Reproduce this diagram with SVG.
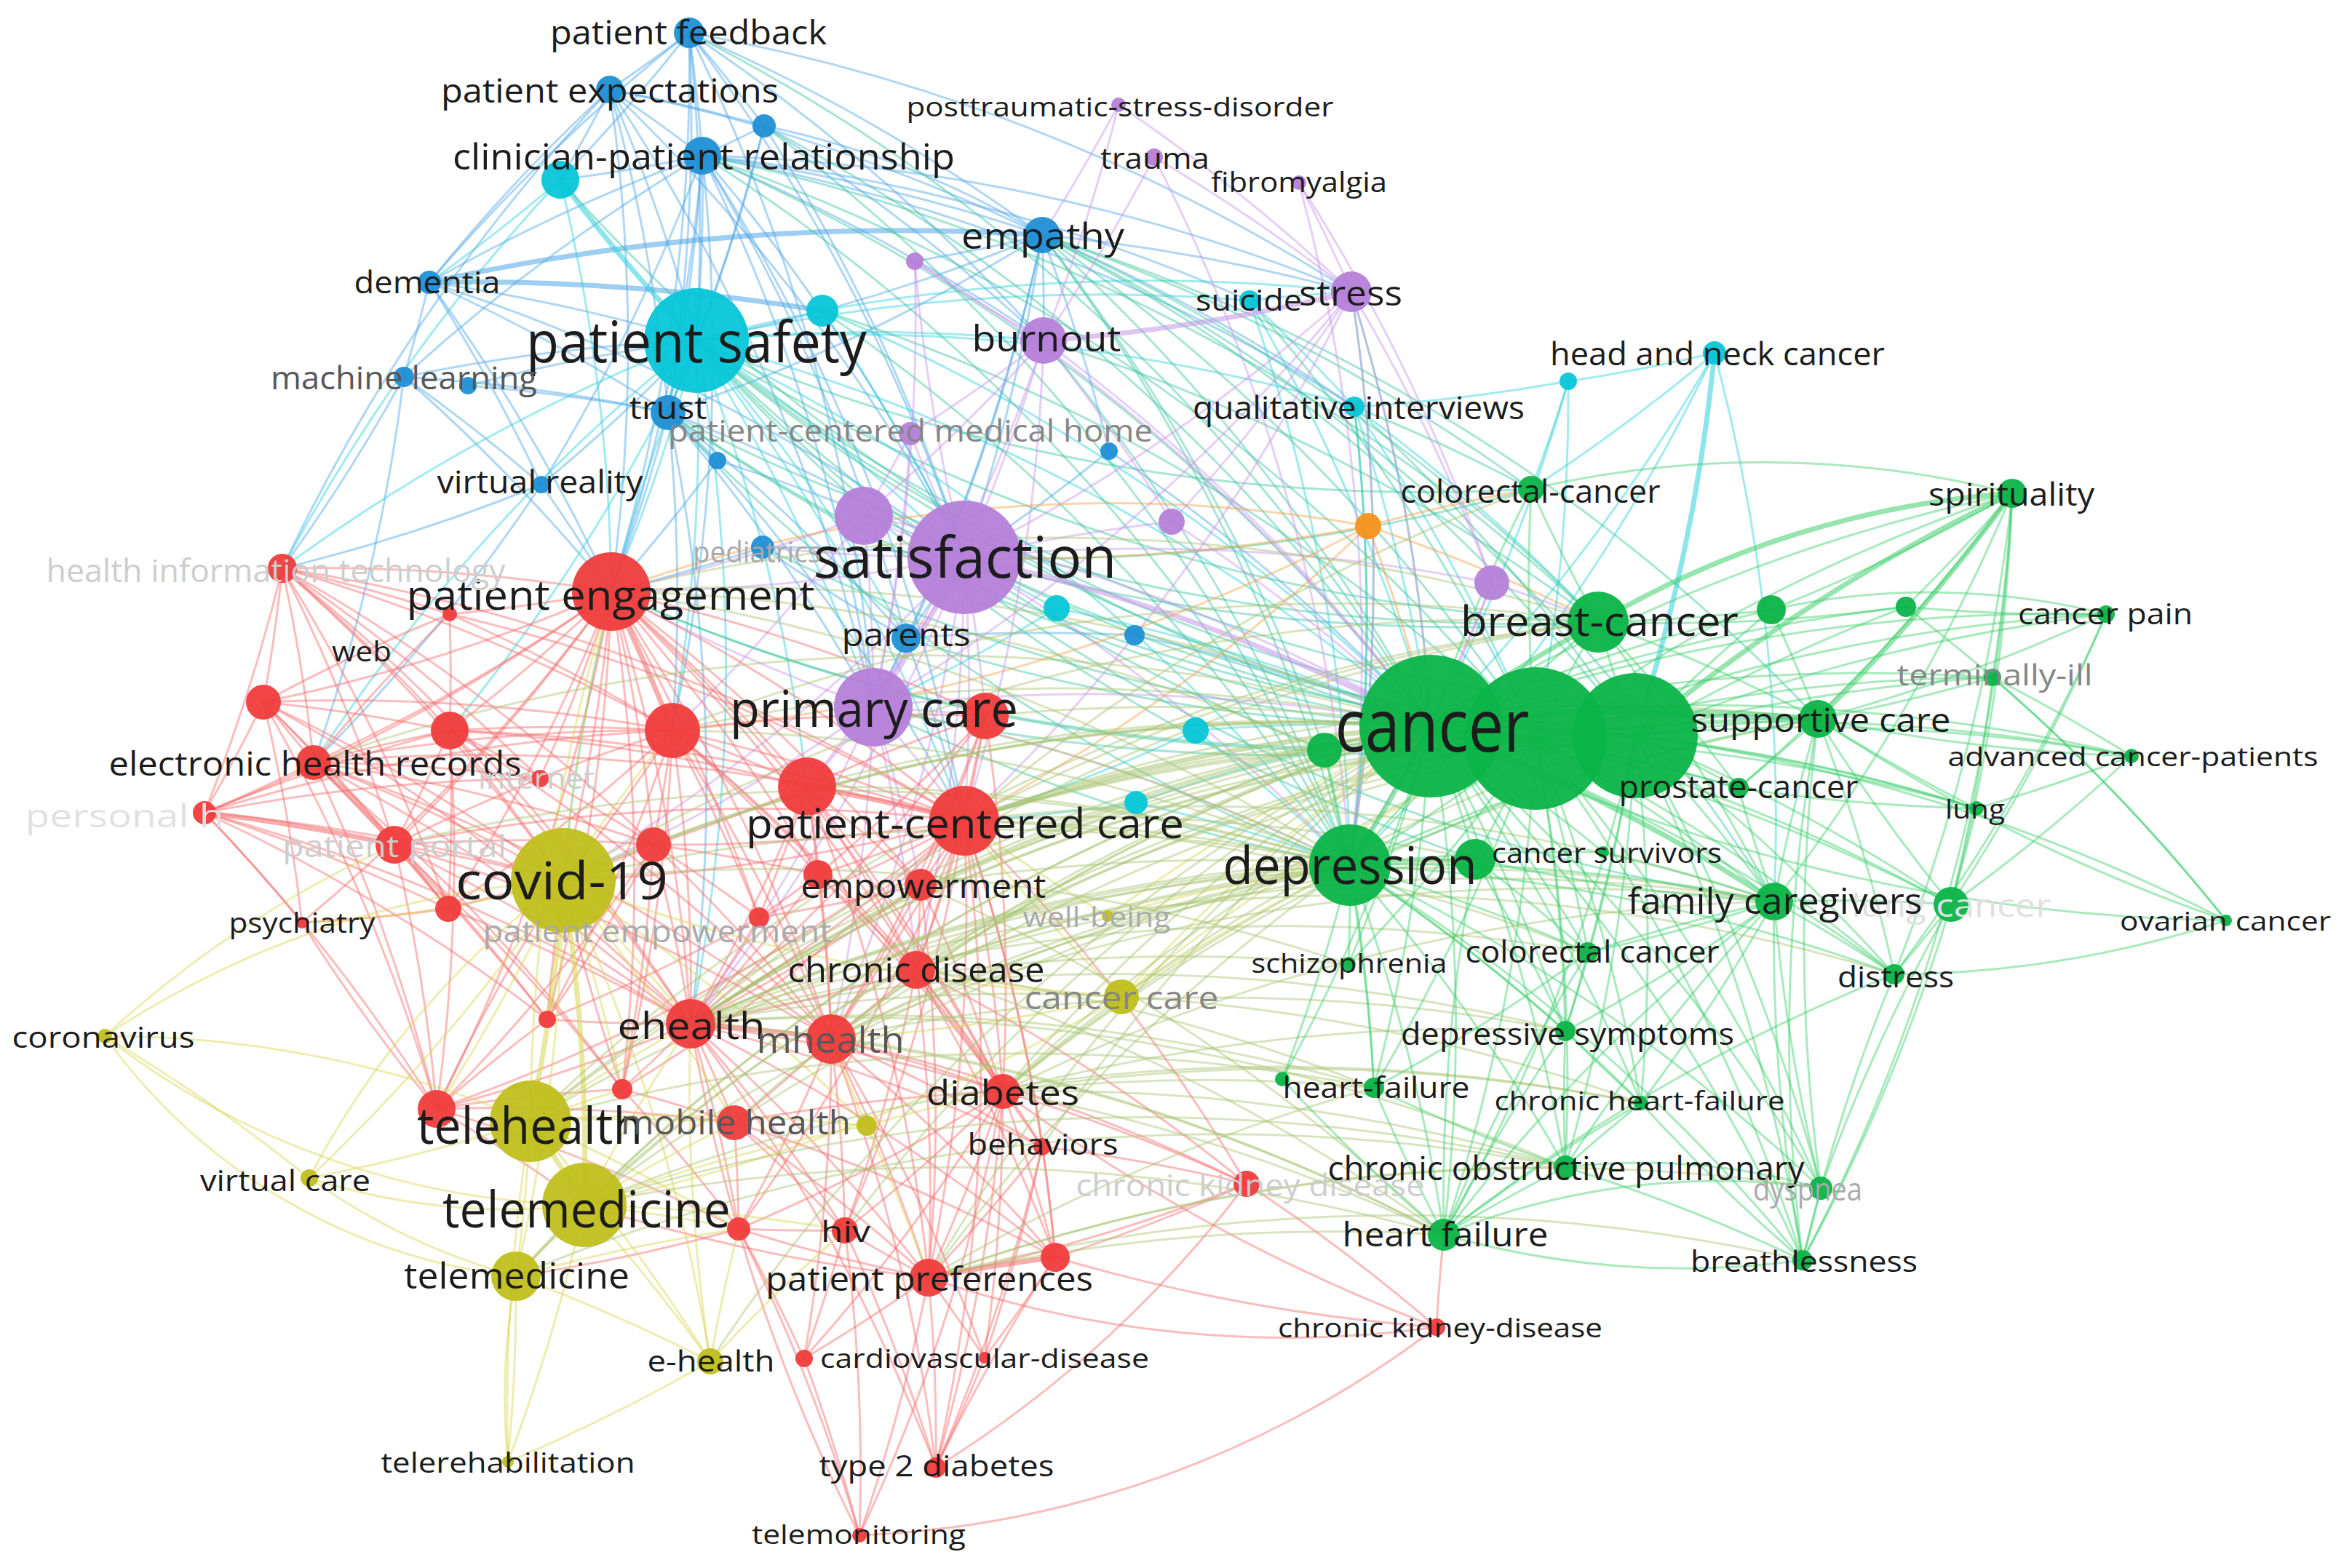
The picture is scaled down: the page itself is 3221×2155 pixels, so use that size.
<svg xmlns="http://www.w3.org/2000/svg" width="3221" height="2155" viewBox="0 0 3221 2155">
<style>
.e path{fill:none;stroke-width:3;stroke-opacity:.45;stroke-linecap:round}
.r path{stroke:#f36a6a}
.g path{stroke:#3fcf6c}
.b path{stroke:#4ea6e6}
.c path{stroke:#2fd0dc}
.p path{stroke:#c795ea}
.y path{stroke:#d6d553}
.o path{stroke:#f7a045}
.m path{stroke:#a8c470}
.t2 path{stroke:#3cc6a0}
.e path.w{stroke-width:7;stroke-opacity:.55}
.red{fill:#f03c3c}.grn{fill:#0bb447}.cyn{fill:#06c6d8}.blu{fill:#1f8fd5}.pur{fill:#b57fd9}.yel{fill:#c0bf1c}.org{fill:#f7921c}
circle{fill-opacity:.95}
text{font-family:"Open Sans","Noto Sans","DejaVu Sans",sans-serif;text-anchor:middle;dominant-baseline:central;fill:#1c1c1c}
.f1{fill:#cdcdcd}.f2{fill:#aaaaaa}.f3{fill:#868686}.f4{fill:#575757}.f5{fill:#e0e0e0}
</style>
<rect width="3221" height="2155" fill="#ffffff"/>
<g id="connectors">
<g class="e b">
<path d="M947 45A2500 2500 0 0 1 838 123"/><path d="M947 45A2500 2500 0 0 1 965 214"/><path d="M947 45A2500 2500 0 0 1 1050 173"/><path d="M947 45A2500 2500 0 0 1 957 468"/><path d="M947 45A2500 2500 0 0 1 770 247"/><path d="M947 45A2500 2500 0 0 1 1432 323"/><path d="M947 45A2500 2500 0 0 1 918 567"/><path d="M947 45A2500 2500 0 0 0 590 388"/><path d="M947 45A2500 2500 0 0 1 1325 766"/><path d="M947 45A2500 2500 0 0 1 1434 468"/><path d="M947 45A2500 2500 0 0 1 1857 401"/><path d="M947 45A2500 2500 0 0 1 840 813"/><path d="M947 45A2500 2500 0 0 1 1200 972"/>
<path d="M838 123A2500 2500 0 0 1 965 214"/><path d="M838 123A2500 2500 0 0 1 1050 173"/><path d="M838 123A2500 2500 0 0 1 957 468"/><path d="M838 123A2500 2500 0 0 1 770 247"/><path d="M838 123A2500 2500 0 0 1 918 567"/><path d="M838 123A2500 2500 0 0 0 590 388"/><path d="M838 123A2500 2500 0 0 1 1325 766"/><path d="M838 123A2500 2500 0 0 1 1432 323"/><path d="M838 123A2500 2500 0 0 1 840 813"/><path d="M838 123A2500 2500 0 0 0 388 781"/><path d="M838 123A2500 2500 0 0 1 1200 972"/>
<path d="M1050 173A2500 2500 0 0 1 965 214"/><path d="M1050 173A1200 1200 0 0 1 1432 323"/><path d="M1050 173A2500 2500 0 0 1 957 468"/><path d="M1050 173A2500 2500 0 0 1 1325 766"/><path d="M1050 173A2500 2500 0 0 1 1434 468"/><path d="M1050 173A2500 2500 0 0 1 918 567"/>
<path d="M965 214A2500 2500 0 0 1 957 468"/><path d="M965 214A2500 2500 0 0 1 1432 323"/><path d="M965 214A2500 2500 0 0 1 918 567"/><path d="M965 214A2500 2500 0 0 1 1325 766"/><path d="M965 214A2500 2500 0 0 1 1434 468"/><path d="M965 214A2500 2500 0 0 1 1200 972"/><path d="M965 214A2500 2500 0 0 1 840 813"/><path d="M965 214A2500 2500 0 0 1 1245 877"/><path d="M965 214A2500 2500 0 0 1 770 247"/><path d="M965 214A2500 2500 0 0 0 590 388"/><path d="M965 214A2500 2500 0 0 0 555 518"/><path d="M965 214A2500 2500 0 0 1 744 666"/><path d="M965 214A2500 2500 0 0 1 1325 1128"/><path d="M965 214A2500 2500 0 0 1 1857 401"/><path d="M965 214A2500 2500 0 0 1 1861 559"/><path d="M965 214A2500 2500 0 0 1 1717 413"/><path d="M965 214A2500 2500 0 0 1 924 1004"/>
<path d="M1432 323A2500 2500 0 0 1 957 468"/><path d="M1432 323A2500 2500 0 0 1 1434 468"/><path d="M1432 323A2500 2500 0 0 1 1857 401"/><path d="M1432 323A2500 2500 0 0 1 1325 766"/><path d="M1432 323A2500 2500 0 0 1 1200 972"/><path d="M1432 323A2500 2500 0 0 1 918 567"/><path d="M1432 323A2500 2500 0 0 1 1861 559"/><path d="M1432 323A2500 2500 0 0 1 1524 620"/><path d="M590 388A3000 3000 0 0 1 1432 323" class="w"/><path d="M1432 323A2500 2500 0 0 1 1257 359"/><path d="M1432 323A2500 2500 0 0 1 1245 877"/>
<path d="M590 388A2500 2500 0 0 1 957 468"/><path d="M590 388A2500 2500 0 0 1 918 567"/><path d="M590 388A2500 2500 0 0 1 555 518"/><path d="M590 388A3000 3000 0 0 1 1130 427" class="w"/><path d="M590 388A2500 2500 0 0 1 1325 766"/><path d="M590 388A2500 2500 0 0 1 840 813"/><path d="M590 388A2500 2500 0 0 1 744 666"/>
<path d="M555 518A2500 2500 0 0 1 957 468"/><path d="M555 518A2500 2500 0 0 1 918 567"/><path d="M555 518A2500 2500 0 0 1 744 666"/><path d="M555 518A2500 2500 0 0 1 840 813"/><path d="M555 518A2500 2500 0 0 1 388 781"/><path d="M555 518A2500 2500 0 0 1 431 1048"/><path d="M643 530A2500 2500 0 0 1 957 468"/><path d="M643 530A2500 2500 0 0 1 918 567"/>
<path d="M957 468A2500 2500 0 0 1 918 567"/><path d="M957 468A2500 2500 0 0 1 744 666"/><path d="M918 567A2500 2500 0 0 1 1325 766"/><path d="M918 567A2500 2500 0 0 1 1200 972"/><path d="M918 567A2500 2500 0 0 1 840 813"/><path d="M918 567A2500 2500 0 0 1 1325 1128"/><path d="M918 567A2500 2500 0 0 1 986 633"/><path d="M918 567A2500 2500 0 0 1 1245 877"/><path d="M918 567A2500 2500 0 0 1 949 1407"/><path d="M918 567A2500 2500 0 0 1 924 1004"/>
<path d="M744 666A2500 2500 0 0 1 840 813"/><path d="M744 666A2500 2500 0 0 1 431 1048"/><path d="M744 666A2500 2500 0 0 1 388 781"/>
<path d="M1245 877A2500 2500 0 0 1 1325 766"/><path d="M1245 877A2500 2500 0 0 1 1200 972"/><path d="M1245 877A2500 2500 0 0 1 1048 752"/><path d="M1245 877A2500 2500 0 0 1 1325 1128"/><path d="M1245 877A2500 2500 0 0 1 1559 873"/><path d="M1048 752A2500 2500 0 0 1 1325 766"/><path d="M1048 752A2500 2500 0 0 1 840 813"/><path d="M1559 873A2500 2500 0 0 1 1966 998"/><path d="M1524 620A2500 2500 0 0 1 1325 766"/><path d="M1524 620A2500 2500 0 0 1 1966 998"/><path d="M986 633A2500 2500 0 0 1 840 813"/><path d="M986 633A2500 2500 0 0 1 1325 766"/>
</g>
<g class="e c">
<path d="M957 468A2500 2500 0 0 1 770 247" class="w"/><path d="M770 247A2500 2500 0 0 1 590 388"/><path d="M770 247A2500 2500 0 0 1 840 813"/><path d="M770 247A2500 2500 0 0 0 388 781"/>
<path d="M957 468A2500 2500 0 0 1 1200 972"/><path d="M957 468A2500 2500 0 0 1 840 813"/><path d="M957 468A2500 2500 0 0 1 1130 427"/><path d="M957 468A2500 2500 0 0 1 1434 468"/><path d="M957 468A2500 2500 0 0 1 1325 1128"/><path d="M957 468A2500 2500 0 0 1 1966 998"/><path d="M957 468A2500 2500 0 0 0 431 1048"/><path d="M957 468A2500 2500 0 0 0 388 781"/><path d="M957 468A2500 2500 0 0 1 1855 1189"/><path d="M957 468A2500 2500 0 0 1 1245 877"/><path d="M957 468A2500 2500 0 0 1 1861 559"/><path d="M957 468A2500 2500 0 0 1 1717 413"/><path d="M957 468A2500 2500 0 0 1 924 1004"/><path d="M957 468A2500 2500 0 0 0 774 1210"/><path d="M957 468A2500 2500 0 0 1 949 1407"/><path d="M957 468A2500 2500 0 0 1 1109 1081"/><path d="M957 468A2500 2500 0 0 1 618 1004"/><path d="M957 468A2500 2500 0 0 1 1325 766"/>
<path d="M1130 427A2500 2500 0 0 1 1966 998"/><path d="M1130 427A2500 2500 0 0 1 1325 766"/><path d="M1130 427A2500 2500 0 0 1 1857 401"/>
<path d="M1717 413A2500 2500 0 0 1 1857 401"/><path d="M1717 413A2500 2500 0 0 1 1861 559"/><path d="M1717 413A2500 2500 0 0 1 1966 998"/><path d="M1717 413A2500 2500 0 0 1 1855 1189"/><path d="M1861 559A2500 2500 0 0 1 1966 998"/><path d="M1861 559A2500 2500 0 0 1 1855 1189"/><path d="M1861 559A2500 2500 0 0 1 2196 855"/><path d="M1861 559A2500 2500 0 0 1 2110 1015"/>
<path d="M2356 485A2500 2500 0 0 1 2155 524"/><path d="M2356 485A2500 2500 0 0 1 1966 998"/><path d="M2356 485A2500 2500 0 0 1 2247 1011" class="w"/><path d="M2356 485A2500 2500 0 0 1 2438 1239"/><path d="M2356 485A2500 2500 0 0 1 2104 672"/><path d="M2356 485A2500 2500 0 0 1 1855 1189"/><path d="M2155 524A2500 2500 0 0 1 1966 998"/><path d="M2155 524A2500 2500 0 0 1 2104 672"/><path d="M2155 524A2500 2500 0 0 1 2110 1015"/><path d="M2155 524A2500 2500 0 0 1 1861 559"/>
<path d="M1452 836A2500 2500 0 0 1 1966 998"/><path d="M1452 836A2500 2500 0 0 1 1325 766"/><path d="M1452 836A2500 2500 0 0 1 1200 972"/><path d="M1643 1004A2500 2500 0 0 1 1966 998"/><path d="M1643 1004A2500 2500 0 0 1 1855 1189"/><path d="M1643 1004A2500 2500 0 0 1 1325 1128"/><path d="M1561 1103A2500 2500 0 0 1 1966 998"/><path d="M1561 1103A2500 2500 0 0 1 1325 1128"/><path d="M1561 1103A2500 2500 0 0 1 1855 1189"/>
</g>
<g class="e t2">
<path d="M1432 323A2500 2500 0 0 1 1966 998"/><path d="M1432 323A2500 2500 0 0 1 1855 1189"/><path d="M965 214A2500 2500 0 0 1 1966 998"/><path d="M1050 173A2500 2500 0 0 1 1966 998"/><path d="M947 45A2500 2500 0 0 1 1966 998"/><path d="M1325 766A2500 2500 0 0 0 2110 1015"/><path d="M1200 972A2500 2500 0 0 0 2110 1015"/><path d="M918 567A2500 2500 0 0 0 1966 998"/><path d="M957 468A2500 2500 0 0 0 2110 1015"/><path d="M1432 323A2500 2500 0 0 1 2110 1015"/><path d="M1325 766A2500 2500 0 0 0 2247 1011"/><path d="M1325 766A2500 2500 0 0 0 2196 855"/><path d="M1432 323A2500 2500 0 0 1 2196 855"/><path d="M957 468A2500 2500 0 0 0 2196 855"/><path d="M1432 323A2500 2500 0 0 1 2104 672"/><path d="M1325 766A2500 2500 0 0 0 2104 672"/><path d="M1434 468A2500 2500 0 0 1 1855 1189"/><path d="M1857 401A2500 2500 0 0 1 1855 1189"/><path d="M1245 877A2500 2500 0 0 0 1966 998"/><path d="M1200 972A2500 2500 0 0 0 1855 1189"/><path d="M1048 752A2500 2500 0 0 0 1966 998"/><path d="M1130 427A2500 2500 0 0 1 2110 1015"/><path d="M1130 427A2500 2500 0 0 1 1855 1189"/><path d="M840 813A2500 2500 0 0 0 2110 1015"/><path d="M918 567A2500 2500 0 0 0 2247 1011"/>
<path d="M1857 401A2500 2500 0 0 1 1966 998"/><path d="M1861 559A2500 2500 0 0 1 2247 1011"/><path d="M965 214A2500 2500 0 0 1 2110 1015"/><path d="M1432 323A2500 2500 0 0 1 2247 1011"/><path d="M957 468A2500 2500 0 0 0 2247 1011"/><path d="M965 214A2500 2500 0 0 1 2196 855"/><path d="M918 567A2500 2500 0 0 0 2196 855"/><path d="M1434 468A2500 2500 0 0 1 2196 855"/><path d="M957 468A2500 2500 0 0 0 2104 672"/><path d="M1861 559A2500 2500 0 0 1 2104 672"/><path d="M957 468A2500 2500 0 0 0 2498 988"/><path d="M1432 323A2500 2500 0 0 1 2498 988"/><path d="M1861 559A2500 2500 0 0 1 1855 1189"/><path d="M965 214A2500 2500 0 0 1 1855 1189"/><path d="M918 567A2500 2500 0 0 0 1855 1189"/><path d="M1717 413A2500 2500 0 0 1 2110 1015"/><path d="M957 468A2500 2500 0 0 0 1820 1031"/><path d="M1432 323A2500 2500 0 0 1 1820 1031"/><path d="M957 468A2500 2500 0 0 0 2027 1181"/><path d="M957 468A2500 2500 0 0 0 2438 1239"/><path d="M1432 323A2500 2500 0 0 1 2438 1239"/><path d="M840 813A2500 2500 0 0 0 1820 1031"/><path d="M1050 173A2500 2500 0 0 1 1855 1189"/><path d="M770 247A2500 2500 0 0 0 1966 998"/>
</g>
<g class="e p">
<path d="M1537 144A2500 2500 0 0 1 1857 401"/><path d="M1537 144A2500 2500 0 0 1 1432 323"/><path d="M1537 144A2500 2500 0 0 1 1434 468"/><path d="M1586 216A2500 2500 0 0 1 1857 401"/><path d="M1586 216A2500 2500 0 0 1 1434 468"/><path d="M1586 216A2500 2500 0 0 1 1855 1189"/><path d="M1785 251A2500 2500 0 0 1 1857 401"/><path d="M1785 251A2500 2500 0 0 1 1855 1189"/><path d="M1785 251A2500 2500 0 0 1 2050 801"/>
<path d="M1857 401A2500 2500 0 0 1 1434 468" class="w"/><path d="M1857 401A2500 2500 0 0 1 1325 766"/><path d="M1857 401A2500 2500 0 0 1 1855 1189"/><path d="M1857 401A2500 2500 0 0 1 1966 998"/><path d="M1857 401A2500 2500 0 0 1 2050 801"/><path d="M1857 401A2500 2500 0 0 1 1200 972"/><path d="M1857 401A2500 2500 0 0 1 1610 717"/><path d="M1857 401A2500 2500 0 0 1 1325 1128"/>
<path d="M1434 468A2500 2500 0 0 1 1325 766"/><path d="M1434 468A2500 2500 0 0 1 1257 359"/><path d="M1434 468A2500 2500 0 0 1 1200 972"/><path d="M1434 468A2500 2500 0 0 1 1187 709"/><path d="M1434 468A2500 2500 0 0 1 1966 998"/><path d="M1434 468A2500 2500 0 0 1 1251 596"/><path d="M1434 468A2500 2500 0 0 1 1610 717"/><path d="M1434 468A2500 2500 0 0 1 1325 1128"/>
<path d="M1325 766A2500 2500 0 0 1 1187 709"/><path d="M1325 766A2500 2500 0 0 1 1200 972" class="w"/><path d="M1325 766A2500 2500 0 0 1 1610 717"/><path d="M1325 766A2500 2500 0 0 1 1251 596"/><path d="M1325 766A2500 2500 0 0 1 1325 1128"/><path d="M1325 766A2500 2500 0 0 1 1966 998" class="w"/><path d="M1325 766A2500 2500 0 0 1 1855 1189"/><path d="M1325 766A2500 2500 0 0 1 840 813"/><path d="M1325 766A2500 2500 0 0 1 1048 752"/><path d="M1325 766A2500 2500 0 0 1 1257 359"/><path d="M1325 766A2500 2500 0 0 1 2050 801"/><path d="M1325 766A2500 2500 0 0 1 1354 984"/><path d="M1325 766A2500 2500 0 0 1 1109 1081"/><path d="M1325 766A2500 2500 0 0 1 949 1407"/><path d="M1325 766A2500 2500 0 0 1 774 1210"/><path d="M1325 766A2500 2500 0 0 1 1142 1428"/><path d="M1325 766A2500 2500 0 0 1 1259 1333"/>
<path d="M1257 359A2500 2500 0 0 1 1200 972"/><path d="M1251 596A2500 2500 0 0 1 1200 972"/><path d="M1251 596A2500 2500 0 0 1 1187 709"/><path d="M1187 709A2500 2500 0 0 1 840 813"/><path d="M1187 709A2500 2500 0 0 1 1200 972"/><path d="M1610 717A2500 2500 0 0 1 1966 998"/><path d="M2050 801A2500 2500 0 0 1 1966 998"/><path d="M2050 801A2500 2500 0 0 1 2196 855"/><path d="M2050 801A2500 2500 0 0 1 1855 1189"/><path d="M1187 709A2500 2500 0 0 1 924 1004"/>
<path d="M1200 972A2500 2500 0 0 1 1325 1128"/><path d="M1200 972A2500 2500 0 0 1 840 813"/><path d="M1200 972A2500 2500 0 0 1 1966 998"/><path d="M1200 972A2500 2500 0 0 1 1855 1189"/><path d="M1200 972A2500 2500 0 0 1 1109 1081"/><path d="M1200 972A2500 2500 0 0 1 1354 984"/><path d="M1187 709A2500 2500 0 0 1 1966 998"/><path d="M1257 359A2500 2500 0 0 1 1966 998"/><path d="M1200 972A2500 2500 0 0 1 949 1407"/><path d="M1200 972A2500 2500 0 0 1 1142 1428"/><path d="M1200 972A2500 2500 0 0 1 774 1210"/><path d="M1200 972A2500 2500 0 0 1 1259 1333"/><path d="M1200 972A2500 2500 0 0 1 1265 1216"/>
</g>
<g class="e o">
<path d="M1880 723A2500 2500 0 0 1 1966 998"/><path d="M1880 723A2000 2000 0 0 0 840 813"/><path d="M1880 723A2500 2500 0 0 1 2104 672"/><path d="M1880 723A2500 2500 0 0 1 1325 766"/><path d="M1880 723A2500 2500 0 0 1 2196 855"/><path d="M1880 723A2500 2500 0 0 1 1325 1128"/><path d="M1880 723A2500 2500 0 0 1 924 1004"/>
</g>
<g class="e r">
<path d="M388 781A2500 2500 0 0 1 840 813"/><path d="M388 781A2500 2500 0 0 1 431 1048"/><path d="M388 781A2500 2500 0 0 1 362 965"/><path d="M388 781A2500 2500 0 0 1 618 844"/><path d="M388 781A2500 2500 0 0 1 281 1117"/><path d="M388 781A2500 2500 0 0 1 618 1004"/><path d="M388 781A2500 2500 0 0 1 742 1070"/><path d="M388 781A2500 2500 0 0 1 542 1161"/><path d="M388 781A2500 2500 0 0 1 924 1004"/><path d="M388 781A2500 2500 0 0 1 1325 1128"/><path d="M388 781A2500 2500 0 0 1 898 1161"/><path d="M388 781A2500 2500 0 0 1 616 1249"/><path d="M388 781A2500 2500 0 0 1 774 1210"/><path d="M388 781A2500 2500 0 0 1 949 1407"/>
<path d="M840 813A2500 2500 0 0 1 618 844"/><path d="M840 813A2500 2500 0 0 1 362 965"/><path d="M840 813A2500 2500 0 0 1 618 1004"/><path d="M840 813A2500 2500 0 0 1 924 1004" class="w"/><path d="M840 813A2500 2500 0 0 1 1109 1081"/><path d="M840 813A2500 2500 0 0 1 1354 984"/><path d="M840 813A2500 2500 0 0 1 431 1048"/><path d="M840 813A2500 2500 0 0 1 742 1070"/><path d="M840 813A2500 2500 0 0 1 542 1161"/><path d="M840 813A2500 2500 0 0 1 1325 1128"/><path d="M840 813A2500 2500 0 0 1 774 1210"/><path d="M840 813A2500 2500 0 0 1 949 1407"/><path d="M840 813A2500 2500 0 0 1 1142 1428"/><path d="M840 813A2500 2500 0 0 1 1259 1333"/><path d="M840 813A2500 2500 0 0 1 1265 1216"/><path d="M840 813A2500 2500 0 0 1 1378 1500"/><path d="M840 813A2500 2500 0 0 1 898 1161"/><path d="M840 813A2500 2500 0 0 1 1043 1261"/><path d="M840 813A2500 2500 0 0 1 600 1524"/><path d="M840 813A2500 2500 0 0 1 281 1117"/><path d="M840 813A2500 2500 0 0 1 1124 1202"/><path d="M840 813A2500 2500 0 0 1 616 1249"/><path d="M840 813A2500 2500 0 0 1 752 1401"/><path d="M840 813A2500 2500 0 0 1 855 1497"/><path d="M840 813A2500 2500 0 0 1 415 1268"/>
<path d="M362 965A2500 2500 0 0 1 431 1048"/><path d="M362 965A2500 2500 0 0 1 281 1117"/><path d="M362 965A2500 2500 0 0 1 618 1004"/><path d="M362 965A2500 2500 0 0 1 542 1161"/><path d="M362 965A2500 2500 0 0 1 415 1268"/><path d="M362 965A2500 2500 0 0 1 924 1004"/><path d="M362 965A2500 2500 0 0 1 618 844"/><path d="M362 965A2500 2500 0 0 1 774 1210"/><path d="M362 965A2500 2500 0 0 1 949 1407"/><path d="M362 965A2500 2500 0 0 1 600 1524"/><path d="M362 965A2500 2500 0 0 1 616 1249"/>
<path d="M431 1048A2500 2500 0 0 1 281 1117"/><path d="M431 1048A2500 2500 0 0 1 618 1004"/><path d="M431 1048A2500 2500 0 0 1 542 1161"/><path d="M431 1048A2500 2500 0 0 1 742 1070"/><path d="M431 1048A2500 2500 0 0 1 924 1004"/><path d="M431 1048A2500 2500 0 0 1 774 1210"/><path d="M431 1048A2500 2500 0 0 1 600 1524"/><path d="M431 1048A2500 2500 0 0 1 616 1249"/><path d="M431 1048A2500 2500 0 0 1 949 1407"/><path d="M431 1048A2500 2500 0 0 1 1325 1128"/><path d="M431 1048A2500 2500 0 0 1 618 844"/><path d="M431 1048A2500 2500 0 0 1 898 1161"/><path d="M431 1048A2500 2500 0 0 1 1142 1428"/><path d="M431 1048A2500 2500 0 0 1 752 1401"/><path d="M431 1048A2500 2500 0 0 1 855 1497"/>
<path d="M281 1117A2500 2500 0 0 1 542 1161" class="w"/><path d="M281 1117A2500 2500 0 0 1 616 1249"/><path d="M281 1117A2500 2500 0 0 1 600 1524"/><path d="M281 1117A2500 2500 0 0 1 415 1268"/><path d="M281 1117A2500 2500 0 0 1 774 1210"/><path d="M281 1117A2500 2500 0 0 1 618 1004"/><path d="M281 1117A2500 2500 0 0 1 924 1004"/><path d="M281 1117A2500 2500 0 0 1 742 1070"/><path d="M281 1117A2500 2500 0 0 1 949 1407"/><path d="M281 1117A2500 2500 0 0 1 752 1401"/>
<path d="M542 1161A2500 2500 0 0 1 616 1249"/><path d="M542 1161A2500 2500 0 0 1 774 1210"/><path d="M542 1161A2500 2500 0 0 1 949 1407"/><path d="M542 1161A2500 2500 0 0 1 752 1401"/><path d="M542 1161A2500 2500 0 0 1 600 1524"/><path d="M542 1161A2500 2500 0 0 1 924 1004"/><path d="M542 1161A2500 2500 0 0 1 898 1161"/><path d="M542 1161A2500 2500 0 0 1 1325 1128"/><path d="M542 1161A2500 2500 0 0 1 855 1497"/><path d="M542 1161A2500 2500 0 0 1 1142 1428"/>
<path d="M618 1004A2500 2500 0 0 1 924 1004"/><path d="M618 1004A2500 2500 0 0 1 542 1161"/><path d="M618 1004A2500 2500 0 0 1 616 1249"/><path d="M618 1004A2500 2500 0 0 1 1109 1081"/><path d="M618 1004A2500 2500 0 0 1 949 1407"/><path d="M618 844A2500 2500 0 0 1 924 1004"/><path d="M618 844A2500 2500 0 0 1 618 1004"/><path d="M618 1004A2500 2500 0 0 1 774 1210"/><path d="M618 1004A2500 2500 0 0 1 898 1161"/><path d="M618 1004A2500 2500 0 0 1 1325 1128"/><path d="M618 1004A2500 2500 0 0 1 1142 1428"/><path d="M618 1004A2500 2500 0 0 1 600 1524"/>
<path d="M924 1004A2500 2500 0 0 1 1109 1081"/><path d="M924 1004A2500 2500 0 0 1 898 1161"/><path d="M924 1004A2500 2500 0 0 1 1325 1128"/><path d="M924 1004A2500 2500 0 0 1 949 1407"/><path d="M924 1004A2500 2500 0 0 1 1142 1428"/><path d="M924 1004A2500 2500 0 0 1 774 1210"/><path d="M924 1004A2500 2500 0 0 1 1354 984"/><path d="M924 1004A2500 2500 0 0 1 1043 1261"/><path d="M924 1004A2500 2500 0 0 1 1259 1333"/><path d="M924 1004A2500 2500 0 0 1 1124 1202"/><path d="M924 1004A2500 2500 0 0 1 1378 1500"/><path d="M924 1004A2500 2500 0 0 1 616 1249"/><path d="M924 1004A2500 2500 0 0 1 752 1401"/><path d="M924 1004A2500 2500 0 0 1 855 1497"/>
<path d="M1109 1081A2500 2500 0 0 1 1325 1128" class="w"/><path d="M1109 1081A2500 2500 0 0 1 1354 984"/><path d="M1109 1081A2500 2500 0 0 1 1124 1202"/><path d="M1109 1081A2500 2500 0 0 1 1265 1216"/><path d="M1109 1081A2500 2500 0 0 1 1259 1333"/><path d="M1109 1081A2500 2500 0 0 1 1043 1261"/><path d="M1109 1081A2500 2500 0 0 1 1142 1428"/><path d="M1109 1081A2500 2500 0 0 1 949 1407"/><path d="M1109 1081A2500 2500 0 0 1 1378 1500"/><path d="M1109 1081A2500 2500 0 0 1 1276 1756"/><path d="M1109 1081A2500 2500 0 0 1 898 1161"/>
<path d="M1354 984A2500 2500 0 0 1 1325 1128"/><path d="M1354 984A2500 2500 0 0 1 1259 1333"/><path d="M1354 984A2500 2500 0 0 1 1265 1216"/><path d="M1354 984A2500 2500 0 0 1 1142 1428"/><path d="M1354 984A2500 2500 0 0 1 1378 1500"/><path d="M1354 984A2500 2500 0 0 1 949 1407"/><path d="M1354 984A2500 2500 0 0 1 1124 1202"/>
<path d="M1325 1128A2500 2500 0 0 1 1265 1216"/><path d="M1325 1128A2500 2500 0 0 1 1259 1333"/><path d="M1325 1128A2500 2500 0 0 1 1124 1202"/><path d="M1325 1128A2500 2500 0 0 1 1378 1500"/><path d="M1325 1128A2500 2500 0 0 1 1142 1428"/><path d="M1325 1128A2500 2500 0 0 1 949 1407"/><path d="M1325 1128A2500 2500 0 0 1 1043 1261"/><path d="M1325 1128A2500 2500 0 0 1 1276 1756"/><path d="M1325 1128A2500 2500 0 0 1 1450 1728"/><path d="M1325 1128A2500 2500 0 0 1 1432 1576"/><path d="M1325 1128A2500 2500 0 0 1 774 1210"/><path d="M1325 1128A2500 2500 0 0 1 898 1161"/><path d="M1325 1128A2500 2500 0 0 1 1161 1691"/><path d="M1325 1128A2500 2500 0 0 1 1015 1689"/><path d="M1325 1128A2500 2500 0 0 1 1713 1627"/><path d="M1325 1128A2500 2500 0 0 1 1286 2017"/><path d="M1325 1128A2500 2500 0 0 1 855 1497"/><path d="M1325 1128A2500 2500 0 0 1 600 1524"/>
<path d="M898 1161A2500 2500 0 0 1 949 1407"/><path d="M898 1161A2500 2500 0 0 1 774 1210"/><path d="M898 1161A2500 2500 0 0 1 1043 1261"/><path d="M898 1161A2500 2500 0 0 1 752 1401"/><path d="M898 1161A2500 2500 0 0 1 1142 1428"/><path d="M898 1161A2500 2500 0 0 1 1124 1202"/><path d="M898 1161A2500 2500 0 0 1 600 1524"/><path d="M898 1161A2500 2500 0 0 1 855 1497"/>
<path d="M1124 1202A2500 2500 0 0 1 949 1407"/><path d="M1124 1202A2500 2500 0 0 1 1142 1428"/><path d="M1124 1202A2500 2500 0 0 1 1259 1333"/><path d="M1124 1202A2500 2500 0 0 1 1378 1500"/><path d="M1124 1202A2500 2500 0 0 1 1043 1261"/>
<path d="M1265 1216A2500 2500 0 0 1 1259 1333"/><path d="M1265 1216A2500 2500 0 0 1 949 1407"/><path d="M1265 1216A2500 2500 0 0 1 1378 1500"/><path d="M1265 1216A2500 2500 0 0 1 1142 1428"/><path d="M1043 1261A2500 2500 0 0 1 949 1407"/><path d="M1043 1261A2500 2500 0 0 1 1142 1428"/><path d="M1265 1216A2500 2500 0 0 1 1276 1756"/><path d="M1265 1216A2500 2500 0 0 1 1043 1261"/><path d="M1043 1261A2500 2500 0 0 1 752 1401"/>
<path d="M1259 1333A2500 2500 0 0 1 1378 1500"/><path d="M1259 1333A2500 2500 0 0 1 1142 1428"/><path d="M1259 1333A2500 2500 0 0 1 949 1407"/><path d="M1259 1333A2500 2500 0 0 1 1432 1576"/><path d="M1259 1333A2500 2500 0 0 1 1276 1756"/><path d="M1259 1333A2500 2500 0 0 1 1450 1728"/><path d="M1259 1333A2500 2500 0 0 1 1161 1691"/><path d="M1259 1333A2500 2500 0 0 1 1713 1627"/>
<path d="M949 1407A2500 2500 0 0 1 1142 1428" class="w"/><path d="M949 1407A2500 2500 0 0 1 855 1497"/><path d="M949 1407A2500 2500 0 0 1 1009 1543"/><path d="M949 1407A2500 2500 0 0 1 600 1524"/><path d="M949 1407A2500 2500 0 0 1 1161 1691"/><path d="M949 1407A2500 2500 0 0 1 1015 1689"/><path d="M949 1407A2500 2500 0 0 1 1276 1756"/><path d="M949 1407A2500 2500 0 0 1 1378 1500"/><path d="M949 1407A2500 2500 0 0 1 752 1401"/><path d="M949 1407A2500 2500 0 0 1 1450 1728"/><path d="M949 1407A2500 2500 0 0 1 1432 1576"/><path d="M949 1407A2500 2500 0 0 1 1286 2017"/>
<path d="M1142 1428A2500 2500 0 0 1 1009 1543"/><path d="M1142 1428A2500 2500 0 0 1 1378 1500"/><path d="M1142 1428A2500 2500 0 0 1 1161 1691"/><path d="M1142 1428A2500 2500 0 0 1 1276 1756"/><path d="M1142 1428A2500 2500 0 0 1 1432 1576"/><path d="M1142 1428A2500 2500 0 0 1 1015 1689"/><path d="M1142 1428A2500 2500 0 0 1 1450 1728"/><path d="M1142 1428A2500 2500 0 0 1 1286 2017"/><path d="M1142 1428A2500 2500 0 0 1 1713 1627"/><path d="M1142 1428A2500 2500 0 0 1 1353 1866"/><path d="M1142 1428A2500 2500 0 0 1 1105 1867"/>
<path d="M1378 1500A2500 2500 0 0 1 1432 1576"/><path d="M1378 1500A2500 2500 0 0 1 1276 1756"/><path d="M1378 1500A2500 2500 0 0 1 1450 1728"/><path d="M1378 1500A2500 2500 0 0 1 1161 1691"/><path d="M1378 1500A2500 2500 0 0 1 1713 1627"/><path d="M1378 1500A2500 2500 0 0 1 1286 2017"/><path d="M1378 1500A2500 2500 0 0 1 1353 1866"/><path d="M1378 1500A2500 2500 0 0 1 1181 2110"/><path d="M1378 1500A2500 2500 0 0 1 1015 1689"/><path d="M1378 1500A2500 2500 0 0 1 1105 1867"/>
<path d="M1432 1576A2500 2500 0 0 1 1450 1728"/><path d="M1432 1576A2500 2500 0 0 1 1276 1756"/><path d="M1432 1576A2500 2500 0 0 1 1353 1866"/><path d="M1432 1576A2500 2500 0 0 1 1713 1627"/><path d="M1432 1576A2500 2500 0 0 1 1286 2017"/>
<path d="M1276 1756A2500 2500 0 0 1 1161 1691"/><path d="M1276 1756A2500 2500 0 0 1 1015 1689"/><path d="M1276 1756A2500 2500 0 0 1 1450 1728" class="w"/><path d="M1276 1756A2500 2500 0 0 1 1353 1866"/><path d="M1276 1756A2500 2500 0 0 1 1286 2017"/><path d="M1276 1756A2500 2500 0 0 1 1105 1867"/><path d="M1276 1756A2500 2500 0 0 1 1181 2110"/>
<path d="M1161 1691A2500 2500 0 0 1 1105 1867"/><path d="M1161 1691A2500 2500 0 0 1 1181 2110"/><path d="M1161 1691A2500 2500 0 0 1 1015 1689"/><path d="M1015 1689A2500 2500 0 0 1 1181 2110"/><path d="M1105 1867A2500 2500 0 0 1 1181 2110"/><path d="M1353 1866A2500 2500 0 0 1 1286 2017"/><path d="M1286 2017A2500 2500 0 0 1 1450 1728"/><path d="M1286 2017A1600 1600 0 0 0 1713 1627"/><path d="M1181 2110A1400 1400 0 0 0 1974 1824"/><path d="M1181 2110A2500 2500 0 0 1 949 1407"/><path d="M1161 1691A2500 2500 0 0 1 1286 2017"/><path d="M1015 1689A2500 2500 0 0 1 1105 1867"/><path d="M1450 1728A2500 2500 0 0 1 1353 1866"/><path d="M1450 1728A2500 2500 0 0 0 1974 1824"/>
<path d="M1713 1627A2500 2500 0 0 1 1974 1824"/><path d="M1713 1627A2500 2500 0 0 1 1450 1728"/><path d="M1713 1627A2500 2500 0 0 1 1276 1756"/><path d="M1974 1824A2500 2500 0 0 1 1984 1697"/><path d="M1974 1824A1500 1500 0 0 1 1276 1756"/><path d="M1974 1824A2500 2500 0 0 1 1378 1500"/>
<path d="M600 1524A2500 2500 0 0 1 855 1497"/><path d="M600 1524A2500 2500 0 0 1 415 1268"/><path d="M600 1524A2500 2500 0 0 1 803 1656"/><path d="M600 1524A2500 2500 0 0 1 774 1210"/><path d="M600 1524A2500 2500 0 0 1 752 1401"/><path d="M855 1497A2500 2500 0 0 1 774 1210"/><path d="M752 1401A2500 2500 0 0 1 774 1210"/><path d="M616 1249A2500 2500 0 0 1 774 1210"/><path d="M616 1249A2500 2500 0 0 1 415 1268"/><path d="M616 1249A2500 2500 0 0 1 949 1407"/><path d="M600 1524A2500 2500 0 0 1 1009 1543"/><path d="M600 1524A2500 2500 0 0 1 1015 1689"/><path d="M855 1497A2500 2500 0 0 1 1015 1689"/><path d="M855 1497A2500 2500 0 0 1 1009 1543"/>
<path d="M1009 1543A2500 2500 0 0 1 1161 1691"/><path d="M1009 1543A2500 2500 0 0 1 1015 1689"/><path d="M1009 1543A2500 2500 0 0 1 1378 1500"/><path d="M1015 1689A2500 2500 0 0 1 709 1754"/><path d="M1276 1756A2500 2500 0 0 1 803 1656"/><path d="M618 844A2500 2500 0 0 1 1325 1128"/><path d="M1009 1543A2500 2500 0 0 1 1276 1756"/><path d="M1009 1543A2500 2500 0 0 1 1450 1728"/>
</g>
<g class="e y">
<path d="M774 1210A2500 2500 0 0 1 729 1541" class="w"/><path d="M774 1210A2500 2500 0 0 1 803 1656" class="w"/><path d="M774 1210A2500 2500 0 0 1 709 1754"/><path d="M144 1424A1300 1300 0 0 1 774 1210"/><path d="M774 1210A2500 2500 0 0 1 425 1619"/><path d="M774 1210A2500 2500 0 0 1 976 1871"/><path d="M774 1210A2500 2500 0 0 1 949 1407"/><path d="M774 1210A2500 2500 0 0 1 1009 1543"/><path d="M774 1210A2500 2500 0 0 1 1191 1547"/><path d="M774 1210A1500 1500 0 0 1 415 1268"/><path d="M774 1210A2500 2500 0 0 0 1541 1370"/><path d="M774 1210A2500 2500 0 0 1 855 1497"/><path d="M774 1210A2500 2500 0 0 1 600 1524"/><path d="M774 1210A2500 2500 0 0 1 840 813"/><path d="M774 1210A2500 2500 0 0 1 924 1004"/>
<path d="M729 1541A2500 2500 0 0 1 803 1656" class="w"/><path d="M729 1541A2500 2500 0 0 1 709 1754"/><path d="M729 1541A2500 2500 0 0 1 425 1619"/><path d="M144 1424A1500 1500 0 0 1 729 1541"/><path d="M729 1541A2500 2500 0 0 1 976 1871"/><path d="M729 1541A2500 2500 0 0 1 949 1407"/><path d="M729 1541A2500 2500 0 0 1 1009 1543"/><path d="M729 1541A2500 2500 0 0 1 1191 1547"/><path d="M729 1541A2500 2500 0 0 0 698 2009"/><path d="M729 1541A2500 2500 0 0 1 855 1497"/><path d="M729 1541A2500 2500 0 0 1 1015 1689"/><path d="M729 1541A2500 2500 0 0 1 840 813"/>
<path d="M803 1656A2500 2500 0 0 1 709 1754"/><path d="M425 1619A900 900 0 0 0 803 1656"/><path d="M803 1656A2500 2500 0 0 1 976 1871"/><path d="M803 1656A2500 2500 0 0 1 698 2009"/><path d="M144 1424A1100 1100 0 0 0 803 1656"/><path d="M803 1656A2500 2500 0 0 1 1191 1547"/><path d="M803 1656A2500 2500 0 0 1 1009 1543"/><path d="M803 1656A2500 2500 0 0 0 1541 1370"/><path d="M803 1656A2500 2500 0 0 1 1015 1689"/><path d="M803 1656A2500 2500 0 0 1 1161 1691"/><path d="M803 1656A2500 2500 0 0 1 949 1407"/>
<path d="M425 1619A900 900 0 0 0 709 1754"/><path d="M709 1754A2500 2500 0 0 1 698 2009"/><path d="M709 1754A2500 2500 0 0 1 976 1871"/><path d="M144 1424A800 800 0 0 0 709 1754"/><path d="M144 1424A2500 2500 0 0 1 425 1619"/><path d="M144 1424A1500 1500 0 0 1 542 1161"/><path d="M976 1871A2500 2500 0 0 1 698 2009"/><path d="M976 1871A2500 2500 0 0 1 949 1407"/><path d="M425 1619A1200 1200 0 0 1 774 1210"/><path d="M709 1754A900 900 0 0 0 698 2009"/><path d="M976 1871A2500 2500 0 0 1 1015 1689"/><path d="M976 1871A2500 2500 0 0 1 1161 1691"/><path d="M709 1754A2500 2500 0 0 1 1015 1689"/><path d="M1191 1547A2500 2500 0 0 1 1276 1756"/>
<path d="M1541 1370A2500 2500 0 0 1 1966 998"/><path d="M1541 1370A2500 2500 0 0 1 1855 1189"/><path d="M1541 1370A2500 2500 0 0 1 1325 1128"/><path d="M1541 1370A2500 2500 0 0 1 1259 1333"/><path d="M1522 1259A2500 2500 0 0 1 1966 998"/><path d="M1522 1259A2500 2500 0 0 1 1855 1189"/><path d="M1522 1259A2500 2500 0 0 1 1325 1128"/><path d="M1191 1547A2500 2500 0 0 1 1142 1428"/><path d="M1191 1547A2500 2500 0 0 1 1378 1500"/><path d="M1541 1370A2500 2500 0 0 1 2110 1015"/><path d="M1541 1370A2500 2500 0 0 1 1142 1428"/>
</g>
<g class="e m">
<path d="M1855 1189A2500 2500 0 0 0 949 1407"/><path d="M1855 1189A2500 2500 0 0 0 1142 1428"/><path d="M1855 1189A2500 2500 0 0 0 1325 1128"/><path d="M1855 1189A2500 2500 0 0 0 1259 1333"/><path d="M1855 1189A2500 2500 0 0 0 1378 1500"/><path d="M1855 1189A2500 2500 0 0 0 774 1210"/><path d="M1855 1189A2500 2500 0 0 0 729 1541"/><path d="M1855 1189A2500 2500 0 0 0 840 813"/><path d="M1855 1189A2500 2500 0 0 0 1200 972"/><path d="M1855 1189A2500 2500 0 0 0 924 1004"/><path d="M1855 1189A2500 2500 0 0 0 1265 1216"/><path d="M1855 1189A2500 2500 0 0 0 1109 1081"/><path d="M1855 1189A2500 2500 0 0 0 1009 1543"/><path d="M1855 1189A2500 2500 0 0 0 1276 1756"/><path d="M1855 1189A2500 2500 0 0 0 803 1656"/><path d="M1855 1189A2500 2500 0 0 0 542 1161"/>
<path d="M1966 998A2500 2500 0 0 0 949 1407"/><path d="M1966 998A2500 2500 0 0 0 1325 1128" class="w"/><path d="M1966 998A2500 2500 0 0 0 840 813"/><path d="M1966 998A2500 2500 0 0 0 774 1210"/><path d="M1966 998A2500 2500 0 0 0 729 1541"/><path d="M1966 998A2500 2500 0 0 0 803 1656"/><path d="M1966 998A2500 2500 0 0 0 1378 1500"/><path d="M1966 998A2500 2500 0 0 0 924 1004"/><path d="M1966 998A2500 2500 0 0 0 1354 984"/><path d="M1966 998A2500 2500 0 0 0 1265 1216"/><path d="M1966 998A2500 2500 0 0 0 1259 1333"/><path d="M1966 998A2500 2500 0 0 0 1142 1428"/><path d="M1966 998A2500 2500 0 0 0 1276 1756"/><path d="M1966 998A2500 2500 0 0 0 1109 1081"/><path d="M1966 998A2500 2500 0 0 0 898 1161"/><path d="M1966 998A2500 2500 0 0 0 1009 1543"/><path d="M1966 998A2500 2500 0 0 0 709 1754"/><path d="M1966 998A2500 2500 0 0 0 976 1871"/><path d="M1966 998A2500 2500 0 0 0 1161 1691"/><path d="M1966 998A2500 2500 0 0 0 1432 1576"/><path d="M1966 998A2500 2500 0 0 0 431 1048"/>
<path d="M2110 1015A2500 2500 0 0 0 1325 1128"/><path d="M2110 1015A2500 2500 0 0 0 949 1407"/><path d="M2110 1015A2500 2500 0 0 0 774 1210"/><path d="M2110 1015A2500 2500 0 0 0 709 1754"/><path d="M2247 1011A2500 2500 0 0 0 803 1656"/><path d="M2247 1011A2500 2500 0 0 0 1142 1428"/><path d="M2110 1015A2500 2500 0 0 0 1378 1500"/><path d="M2110 1015A2500 2500 0 0 0 1259 1333"/><path d="M2110 1015A2500 2500 0 0 0 729 1541"/><path d="M2247 1011A2500 2500 0 0 0 949 1407"/><path d="M2247 1011A2500 2500 0 0 0 1325 1128"/><path d="M2247 1011A2500 2500 0 0 0 1378 1500"/>
<path d="M1984 1697A2500 2500 0 0 0 1378 1500"/><path d="M1984 1697A2500 2500 0 0 0 1276 1756"/><path d="M1984 1697A2500 2500 0 0 0 949 1407"/><path d="M1984 1697A2500 2500 0 0 0 803 1656"/><path d="M1984 1697A2500 2500 0 0 0 1259 1333"/><path d="M2151 1604A2500 2500 0 0 0 803 1656"/><path d="M2151 1604A2500 2500 0 0 0 949 1407"/><path d="M2151 1417A2500 2500 0 0 0 1142 1428"/><path d="M1888 1495A2500 2500 0 0 0 1378 1500"/><path d="M1888 1495A2500 2500 0 0 0 729 1541"/><path d="M1888 1495A2500 2500 0 0 0 1276 1756"/><path d="M2255 1516A2500 2500 0 0 0 803 1656"/><path d="M2438 1239A2500 2500 0 0 0 949 1407"/><path d="M2438 1239A2500 2500 0 0 0 1325 1128"/><path d="M2498 988A2500 2500 0 0 0 1325 1128"/><path d="M2196 855A2500 2500 0 0 0 1325 1128"/><path d="M2196 855A2500 2500 0 0 0 840 813"/><path d="M2196 855A2500 2500 0 0 0 949 1407"/><path d="M2104 672A2500 2500 0 0 0 1325 1128"/><path d="M2027 1181A2500 2500 0 0 0 1142 1428"/><path d="M1820 1031A2500 2500 0 0 0 1325 1128"/><path d="M1853 1325A2500 2500 0 0 0 949 1407"/>
<path d="M1984 1697A2500 2500 0 0 0 1142 1428"/><path d="M1984 1697A2500 2500 0 0 0 1265 1216"/><path d="M1888 1495A2500 2500 0 0 0 949 1407"/><path d="M1888 1495A2500 2500 0 0 0 1259 1333"/><path d="M2151 1604A2500 2500 0 0 0 1378 1500"/><path d="M2151 1604A2500 2500 0 0 0 1276 1756"/><path d="M2151 1604A2500 2500 0 0 0 709 1754"/><path d="M2255 1516A2500 2500 0 0 0 1378 1500"/><path d="M2255 1516A2500 2500 0 0 0 949 1407"/><path d="M2151 1417A2500 2500 0 0 0 949 1407"/><path d="M2151 1417A2500 2500 0 0 0 1378 1500"/><path d="M1853 1325A2500 2500 0 0 0 774 1210"/><path d="M2182 1309A2500 2500 0 0 0 1325 1128"/><path d="M2182 1309A2500 2500 0 0 0 949 1407"/><path d="M2027 1181A2500 2500 0 0 0 1325 1128"/><path d="M2027 1181A2500 2500 0 0 0 949 1407"/><path d="M2027 1181A2500 2500 0 0 0 1259 1333"/><path d="M1820 1031A2500 2500 0 0 0 840 813"/><path d="M1820 1031A2500 2500 0 0 0 949 1407"/><path d="M2477 1732A2500 2500 0 0 0 1276 1756"/><path d="M2502 1633A2500 2500 0 0 0 1276 1756"/><path d="M2603 1339A2500 2500 0 0 0 949 1407"/><path d="M2438 1239A2500 2500 0 0 0 1378 1500"/><path d="M2438 1239A2500 2500 0 0 0 1142 1428"/><path d="M2438 1239A2500 2500 0 0 0 1259 1333"/><path d="M2498 988A2500 2500 0 0 0 949 1407"/><path d="M2498 988A2500 2500 0 0 0 1378 1500"/><path d="M2196 855A2500 2500 0 0 0 924 1004"/><path d="M2196 855A2500 2500 0 0 0 774 1210"/><path d="M2196 855A2500 2500 0 0 0 729 1541"/>
</g>
<g class="e g">
<path d="M1966 998A2500 2500 0 0 1 2110 1015"/><path d="M1966 998A2500 2500 0 0 1 2247 1011"/><path d="M1966 998A2500 2500 0 0 1 2196 855" class="w"/><path d="M1966 998A2500 2500 0 0 1 1855 1189" class="w"/><path d="M1966 998A2500 2500 0 0 1 2027 1181"/><path d="M1966 998A2500 2500 0 0 1 1820 1031"/><path d="M1966 998A2500 2500 0 0 1 2498 988" class="w"/><path d="M1966 998A2500 2500 0 0 1 2438 1239" class="w"/><path d="M1966 998A2500 2500 0 0 1 2389 1083"/><path d="M1966 998A2500 2500 0 0 1 2104 672"/><path d="M1966 998A2500 2500 0 0 1 2765 678"/><path d="M1966 998A2500 2500 0 0 1 2434 838"/><path d="M1966 998A2500 2500 0 0 1 2619 834"/><path d="M1966 998A2500 2500 0 0 1 2894 844"/><path d="M1966 998A2500 2500 0 0 1 2738 931"/><path d="M1966 998A2500 2500 0 0 1 2929 1039"/><path d="M1966 998A2500 2500 0 0 1 2716 1111"/><path d="M1966 998A2500 2500 0 0 1 2681 1243"/><path d="M1966 998A2500 2500 0 0 1 1853 1325"/><path d="M1966 998A2500 2500 0 0 1 2182 1309"/><path d="M1966 998A2500 2500 0 0 1 2603 1339"/><path d="M1966 998A2500 2500 0 0 1 2151 1417"/><path d="M1966 998A2500 2500 0 0 1 1888 1495"/><path d="M1966 998A2500 2500 0 0 1 2255 1516"/><path d="M1966 998A2500 2500 0 0 1 2151 1604"/><path d="M1966 998A2500 2500 0 0 1 2502 1633"/><path d="M1966 998A2500 2500 0 0 1 1984 1697"/><path d="M1966 998A2500 2500 0 0 1 2477 1732"/><path d="M1966 998A2500 2500 0 0 1 2203 1171"/><path d="M1966 998A2500 2500 0 0 1 1762 1483"/><path d="M1966 998A2500 2500 0 0 0 3059 1265"/>
<path d="M2110 1015A2500 2500 0 0 1 2196 855"/><path d="M2110 1015A2500 2500 0 0 1 1855 1189"/><path d="M2110 1015A2500 2500 0 0 1 2498 988"/><path d="M2110 1015A2500 2500 0 0 1 2438 1239"/><path d="M2110 1015A2500 2500 0 0 1 2389 1083"/><path d="M2110 1015A2500 2500 0 0 1 2765 678"/><path d="M2110 1015A2500 2500 0 0 1 2894 844"/><path d="M2110 1015A2500 2500 0 0 1 2716 1111"/><path d="M2110 1015A2500 2500 0 0 1 2681 1243"/><path d="M2110 1015A2500 2500 0 0 1 2603 1339"/><path d="M2110 1015A2500 2500 0 0 1 2151 1417"/><path d="M2110 1015A2500 2500 0 0 1 2151 1604"/><path d="M2110 1015A2500 2500 0 0 1 1984 1697"/><path d="M2110 1015A2500 2500 0 0 1 2477 1732"/><path d="M2110 1015A2500 2500 0 0 1 2502 1633"/><path d="M2110 1015A2500 2500 0 0 1 2104 672"/><path d="M2110 1015A2500 2500 0 0 1 2182 1309"/><path d="M2110 1015A2500 2500 0 0 1 2738 931"/><path d="M2110 1015A2500 2500 0 0 1 2929 1039"/><path d="M2110 1015A2500 2500 0 0 1 1853 1325"/><path d="M2110 1015A2500 2500 0 0 1 2255 1516"/><path d="M2110 1015A2500 2500 0 0 1 1888 1495"/><path d="M2110 1015A2500 2500 0 0 1 2027 1181"/>
<path d="M2247 1011A2500 2500 0 0 1 2196 855"/><path d="M2247 1011A2500 2500 0 0 1 2498 988"/><path d="M2247 1011A2500 2500 0 0 1 2438 1239"/><path d="M2247 1011A2500 2500 0 0 1 2389 1083"/><path d="M2247 1011A2500 2500 0 0 1 2765 678" class="w"/><path d="M2247 1011A2500 2500 0 0 1 1855 1189"/><path d="M2247 1011A2500 2500 0 0 1 2434 838"/><path d="M2247 1011A2500 2500 0 0 1 2619 834"/><path d="M2247 1011A2500 2500 0 0 1 2738 931"/><path d="M2247 1011A2500 2500 0 0 1 2716 1111"/><path d="M2247 1011A2500 2500 0 0 1 2681 1243"/><path d="M2247 1011A2500 2500 0 0 1 2603 1339"/><path d="M2247 1011A2500 2500 0 0 1 2929 1039"/><path d="M2247 1011A2500 2500 0 0 1 2894 844"/><path d="M2247 1011A2500 2500 0 0 1 2477 1732"/><path d="M2247 1011A2500 2500 0 0 1 2502 1633"/><path d="M2247 1011A2500 2500 0 0 1 2151 1604"/><path d="M2247 1011A2500 2500 0 0 1 1984 1697"/><path d="M2247 1011A2500 2500 0 0 1 2182 1309"/><path d="M2247 1011A2500 2500 0 0 1 2151 1417"/><path d="M2247 1011A2500 2500 0 0 1 2255 1516"/><path d="M2247 1011A2500 2500 0 0 1 3059 1265"/>
<path d="M1855 1189A2500 2500 0 0 1 2027 1181"/><path d="M1855 1189A2500 2500 0 0 1 1853 1325"/><path d="M1855 1189A2500 2500 0 0 1 2151 1417"/><path d="M1855 1189A2500 2500 0 0 1 1888 1495"/><path d="M1855 1189A2500 2500 0 0 1 1984 1697"/><path d="M1855 1189A2500 2500 0 0 1 2151 1604"/><path d="M1855 1189A2500 2500 0 0 1 2255 1516"/><path d="M1855 1189A2500 2500 0 0 1 2438 1239"/><path d="M1855 1189A2500 2500 0 0 1 2182 1309"/><path d="M1855 1189A2500 2500 0 0 1 2196 855"/><path d="M1855 1189A2500 2500 0 0 1 2498 988"/><path d="M1855 1189A2500 2500 0 0 1 1820 1031"/><path d="M1855 1189A2500 2500 0 0 1 2603 1339"/><path d="M1855 1189A2500 2500 0 0 1 1762 1483"/><path d="M1855 1189A2500 2500 0 0 1 2477 1732"/><path d="M1855 1189A2500 2500 0 0 1 2203 1171"/><path d="M1855 1189A2500 2500 0 0 1 2502 1633"/>
<path d="M1984 1697A2500 2500 0 0 1 2151 1604"/><path d="M1984 1697A2500 2500 0 0 1 2255 1516"/><path d="M1984 1697A1200 1200 0 0 0 2477 1732"/><path d="M1984 1697A1000 1000 0 0 1 2502 1633"/><path d="M1984 1697A2500 2500 0 0 1 1888 1495"/><path d="M1984 1697A2500 2500 0 0 1 1762 1483"/><path d="M1984 1697A2500 2500 0 0 1 2151 1417"/><path d="M1984 1697A2500 2500 0 0 1 2438 1239"/><path d="M1984 1697A2500 2500 0 0 1 2027 1181"/><path d="M1984 1697A2500 2500 0 0 1 2182 1309"/><path d="M1984 1697A2500 2500 0 0 1 2603 1339"/>
<path d="M2151 1604A2500 2500 0 0 1 2477 1732"/><path d="M2151 1604A900 900 0 0 1 2502 1633"/><path d="M2151 1604A2500 2500 0 0 1 2255 1516"/><path d="M2151 1604A2500 2500 0 0 1 1888 1495"/><path d="M2502 1633A2500 2500 0 0 1 2477 1732"/><path d="M2502 1633A2500 2500 0 0 1 2681 1243"/><path d="M2502 1633A2500 2500 0 0 1 2438 1239"/><path d="M2502 1633A2500 2500 0 0 1 2498 988"/><path d="M2151 1604A2500 2500 0 0 1 2438 1239"/><path d="M2151 1604A2500 2500 0 0 1 2151 1417"/>
<path d="M2477 1732A2500 2500 0 0 0 2681 1243"/><path d="M2477 1732A2500 2500 0 0 1 2438 1239"/><path d="M2477 1732A2500 2500 0 0 1 2603 1339"/><path d="M2477 1732A2500 2500 0 0 1 2498 988"/><path d="M2477 1732A2500 2500 0 0 1 2255 1516"/><path d="M2477 1732A2500 2500 0 0 0 2765 678"/>
<path d="M2438 1239A2500 2500 0 0 1 2498 988"/><path d="M2438 1239A2500 2500 0 0 1 2681 1243"/><path d="M2438 1239A2500 2500 0 0 1 2603 1339"/><path d="M2438 1239A2500 2500 0 0 1 2389 1083"/><path d="M2438 1239A2500 2500 0 0 1 2151 1417"/><path d="M2438 1239A2500 2500 0 0 0 2765 678"/><path d="M2438 1239A2500 2500 0 0 1 2027 1181"/><path d="M2438 1239A2500 2500 0 0 1 2182 1309"/><path d="M2438 1239A2500 2500 0 0 1 2255 1516"/>
<path d="M2765 678A2500 2500 0 0 1 2498 988" class="w"/><path d="M2765 678A2500 2500 0 0 1 2434 838"/><path d="M2104 672A1400 1400 0 0 1 2765 678"/><path d="M2196 855A1300 1300 0 0 1 2765 678" class="w"/><path d="M2765 678A2500 2500 0 0 1 2681 1243"/><path d="M2765 678A2500 2500 0 0 1 2619 834"/><path d="M2765 678A2500 2500 0 0 1 2738 931"/><path d="M2765 678A2500 2500 0 0 1 2603 1339"/><path d="M2765 678A2500 2500 0 0 1 2389 1083"/>
<path d="M2738 931A2500 2500 0 0 1 2498 988"/><path d="M2738 931A2500 2500 0 0 1 2681 1243"/><path d="M2738 931A2500 2500 0 0 1 3059 1265"/><path d="M2738 931A2500 2500 0 0 1 2929 1039"/><path d="M2929 1039A2500 2500 0 0 1 2498 988"/><path d="M2929 1039A2500 2500 0 0 1 2681 1243"/><path d="M2929 1039A2500 2500 0 0 1 2716 1111"/><path d="M2716 1111A2500 2500 0 0 1 2498 988"/><path d="M2716 1111A2500 2500 0 0 1 2389 1083"/><path d="M2716 1111A2500 2500 0 0 1 2681 1243"/>
<path d="M2894 844A2500 2500 0 0 1 2498 988"/><path d="M2894 844A2500 2500 0 0 1 2619 834"/><path d="M2434 838A1000 1000 0 0 1 2894 844"/><path d="M2894 844A2500 2500 0 0 1 2681 1243"/><path d="M2894 844A2500 2500 0 0 1 2603 1339"/><path d="M2681 1243A2500 2500 0 0 1 2603 1339"/><path d="M2681 1243A2500 2500 0 0 1 2498 988"/>
<path d="M2434 838A2500 2500 0 0 1 2196 855"/><path d="M2434 838A2500 2500 0 0 1 2498 988"/><path d="M2619 834A2500 2500 0 0 1 2196 855"/><path d="M2196 855A2500 2500 0 0 1 2498 988"/><path d="M2196 855A2500 2500 0 0 1 2389 1083"/><path d="M2196 855A2500 2500 0 0 1 2104 672"/><path d="M2196 855A2500 2500 0 0 1 2438 1239"/><path d="M2498 988A2500 2500 0 0 1 2389 1083"/><path d="M2498 988A2500 2500 0 0 1 2603 1339"/>
<path d="M2182 1309A2500 2500 0 0 1 2151 1417"/><path d="M2255 1516A2500 2500 0 0 1 2151 1417"/><path d="M2203 1171A2500 2500 0 0 1 2438 1239"/><path d="M2027 1181A2500 2500 0 0 1 2151 1417"/><path d="M1820 1031A2500 2500 0 0 1 1888 1495"/><path d="M3059 1265A1500 1500 0 0 1 2603 1339"/><path d="M3059 1265A2500 2500 0 0 1 2498 988"/><path d="M3059 1265A2500 2500 0 0 0 2619 834"/><path d="M2182 1309A2500 2500 0 0 1 2438 1239"/><path d="M2182 1309A2500 2500 0 0 1 1888 1495"/><path d="M2027 1181A2500 2500 0 0 1 2182 1309"/>
</g>
</g>
<g id="nodes">
<g id="node-u-g1"><circle class="grn" cx="2110" cy="1015" r="98"/></g>
<g id="node-u-g2"><circle class="grn" cx="2247" cy="1011" r="86"/></g>
<g id="node-u-p2"><circle class="pur" cx="1187" cy="709" r="40"/></g>
<g id="node-u-r5"><circle class="red" cx="1109" cy="1081" r="40"/></g>
<g id="node-u-r4"><circle class="red" cx="924" cy="1004" r="38"/></g>
<g id="node-u-r6"><circle class="red" cx="1354" cy="984" r="32"/></g>
<g id="node-u-g5"><circle class="grn" cx="2027" cy="1181" r="28"/></g>
<g id="node-u-c1"><circle class="cyn" cx="770" cy="247" r="26"/></g>
<g id="node-u-r3"><circle class="red" cx="618" cy="1004" r="26"/></g>
<g id="node-u-thr"><circle class="red" cx="600" cy="1524" r="26"/></g>
<g id="node-u-r2"><circle class="red" cx="362" cy="965" r="24"/></g>
<g id="node-u-r7"><circle class="red" cx="898" cy="1161" r="24"/></g>
<g id="node-u-p4"><circle class="pur" cx="2050" cy="801" r="24"/></g>
<g id="node-u-g6"><circle class="grn" cx="1820" cy="1031" r="24"/></g>
<g id="node-u-c2"><circle class="cyn" cx="1130" cy="427" r="22"/></g>
<g id="node-u-r8"><circle class="red" cx="1124" cy="1202" r="20"/></g>
<g id="node-u-g3"><circle class="grn" cx="2434" cy="838" r="20"/></g>
<g id="node-u-r13"><circle class="red" cx="1450" cy="1728" r="20"/></g>
<g id="node-u-p3"><circle class="pur" cx="1610" cy="717" r="18"/></g>
<g id="node-u-o1"><circle class="org" cx="1880" cy="723" r="18"/></g>
<g id="node-u-c3"><circle class="cyn" cx="1452" cy="836" r="18"/></g>
<g id="node-u-c4"><circle class="cyn" cx="1643" cy="1004" r="18"/></g>
<g id="node-u-r9"><circle class="red" cx="616" cy="1249" r="18"/></g>
<g id="node-u-b1"><circle class="blu" cx="1050" cy="173" r="16"/></g>
<g id="node-u-c5"><circle class="cyn" cx="1561" cy="1103" r="16"/></g>
<g id="node-u-r12"><circle class="red" cx="1015" cy="1689" r="16"/></g>
<g id="node-u-b4"><circle class="blu" cx="1559" cy="873" r="14"/></g>
<g id="node-u-g4"><circle class="grn" cx="2619" cy="834" r="14"/></g>
<g id="node-u-r11"><circle class="red" cx="855" cy="1497" r="14"/></g>
<g id="node-u-y1"><circle class="yel" cx="1191" cy="1547" r="14"/></g>
<g id="node-u-p1"><circle class="pur" cx="1257" cy="359" r="12"/></g>
<g id="node-u-b2"><circle class="blu" cx="986" cy="633" r="12"/></g>
<g id="node-u-b3"><circle class="blu" cx="1524" cy="620" r="12"/></g>
<g id="node-u-c6"><circle class="cyn" cx="2155" cy="524" r="12"/></g>
<g id="node-u-ml2"><circle class="blu" cx="643" cy="530" r="12"/></g>
<g id="node-u-r10"><circle class="red" cx="752" cy="1401" r="12"/></g>
<g id="node-u-r1"><circle class="red" cx="618" cy="844" r="10"/></g>
<g id="node-u-r14"><circle class="red" cx="1105" cy="1867" r="12"/></g>
<g id="node-u-hf1b"><circle class="grn" cx="1762" cy="1483" r="10"/></g>

<g id="node-cancer"><circle class="grn" cx="1966" cy="998" r="98"/><text x="1968" y="994" font-size="100" textLength="267" lengthAdjust="spacingAndGlyphs">cancer</text></g>
<g id="node-satisfaction"><circle class="pur" cx="1325" cy="766" r="78"/><text x="1326" y="764" font-size="78" textLength="417" lengthAdjust="spacingAndGlyphs">satisfaction</text></g>
<g id="node-patient-safety"><circle class="cyn" cx="957" cy="468" r="72"/><text x="957" y="468" font-size="78" textLength="468" lengthAdjust="spacingAndGlyphs">patient safety</text></g>
<g id="node-covid-19"><circle class="yel" cx="774" cy="1210" r="72"/><text x="772" y="1208" font-size="72" textLength="292" lengthAdjust="spacingAndGlyphs">covid-19</text></g>
<g id="node-telemedicine"><circle class="yel" cx="803" cy="1656" r="58"/><text x="806" y="1660" font-size="70" textLength="396" lengthAdjust="spacingAndGlyphs">telemedicine</text></g>
<g id="node-telehealth"><circle class="yel" cx="729" cy="1541" r="56"/><text x="728" y="1545" font-size="70" textLength="310" lengthAdjust="spacingAndGlyphs">telehealth</text></g>
<g id="node-depression"><circle class="grn" cx="1855" cy="1189" r="56"/><text x="1855" y="1187" font-size="72" textLength="349" lengthAdjust="spacingAndGlyphs">depression</text></g>
<g id="node-patient-engagement"><circle class="red" cx="840" cy="813" r="54"/><text x="839" y="816" font-size="56" textLength="561" lengthAdjust="spacingAndGlyphs">patient engagement</text></g>
<g id="node-primary-care"><circle class="pur" cx="1200" cy="972" r="54"/><text x="1201" y="972" font-size="70" textLength="396" lengthAdjust="spacingAndGlyphs">primary care</text></g>
<g id="node-patient-centered-care"><circle class="red" cx="1325" cy="1128" r="48"/><text x="1326" y="1130" font-size="56" textLength="602" lengthAdjust="spacingAndGlyphs">patient-centered care</text></g>
<g id="node-breast-cancer"><circle class="grn" cx="2196" cy="855" r="42"/><text x="2198" y="852" font-size="56" textLength="382" lengthAdjust="spacingAndGlyphs">breast-cancer</text></g>
<g id="node-ehealth"><circle class="red" cx="949" cy="1407" r="34"/><text x="950" y="1407" font-size="52" textLength="203" lengthAdjust="spacingAndGlyphs">ehealth</text></g>
<g id="node-mhealth"><circle class="red" cx="1142" cy="1428" r="34"/><text class="f4" x="1141" y="1428" font-size="50" textLength="203" lengthAdjust="spacingAndGlyphs">mhealth</text></g>
<g id="node-telemedicine-2"><circle class="yel" cx="709" cy="1754" r="34"/><text x="710" y="1752" font-size="50" textLength="310" lengthAdjust="spacingAndGlyphs">telemedicine</text></g>
<g id="node-burnout"><circle class="pur" cx="1434" cy="468" r="32"/><text x="1438" y="464" font-size="50" textLength="205" lengthAdjust="spacingAndGlyphs">burnout</text></g>
<g id="node-stress"><circle class="pur" cx="1857" cy="401" r="28"/><text x="1856" y="401" font-size="48" textLength="142" lengthAdjust="spacingAndGlyphs">stress</text></g>
<g id="node-clinician-patient-relationship"><circle class="blu" cx="965" cy="214" r="26"/><text x="967" y="214" font-size="50" textLength="690" lengthAdjust="spacingAndGlyphs">clinician-patient relationship</text></g>
<g id="node-patient-portal"><circle class="red" cx="542" cy="1161" r="26"/><text class="f1" x="542" y="1161" font-size="42" textLength="308" lengthAdjust="spacingAndGlyphs">patient portal</text></g>
<g id="node-chronic-disease"><circle class="red" cx="1259" cy="1333" r="26"/><text x="1259" y="1331" font-size="48" textLength="353" lengthAdjust="spacingAndGlyphs">chronic disease</text></g>
<g id="node-supportive-care"><circle class="grn" cx="2498" cy="988" r="26"/><text x="2502" y="988" font-size="46" textLength="357" lengthAdjust="spacingAndGlyphs">supportive care</text></g>
<g id="node-lung-cancer"><circle class="grn" cx="2681" cy="1243" r="24"/><text class="f5" x="2681" y="1243" font-size="44" textLength="274" lengthAdjust="spacingAndGlyphs">lung cancer</text></g>
<g id="node-family-caregivers"><circle class="grn" cx="2438" cy="1239" r="26"/><text x="2439" y="1237" font-size="50" textLength="405" lengthAdjust="spacingAndGlyphs">family caregivers</text></g>
<g id="node-patient-preferences"><circle class="red" cx="1276" cy="1756" r="26"/><text x="1277" y="1756" font-size="46" textLength="450" lengthAdjust="spacingAndGlyphs">patient preferences</text></g>
<g id="node-empathy"><circle class="blu" cx="1432" cy="323" r="25"/><text x="1433" y="323" font-size="50" textLength="224" lengthAdjust="spacingAndGlyphs">empathy</text></g>
<g id="node-electronic-health-records"><circle class="red" cx="431" cy="1048" r="24"/><text x="433" y="1048" font-size="46" textLength="567" lengthAdjust="spacingAndGlyphs">electronic health records</text></g>
<g id="node-cancer-care"><circle class="yel" cx="1541" cy="1370" r="24"/><text class="f3" x="1541" y="1370" font-size="44" textLength="267" lengthAdjust="spacingAndGlyphs">cancer care</text></g>
<g id="node-diabetes"><circle class="red" cx="1378" cy="1500" r="24"/><text x="1378" y="1500" font-size="48" textLength="210" lengthAdjust="spacingAndGlyphs">diabetes</text></g>
<g id="node-mobile-health"><circle class="red" cx="1009" cy="1543" r="24"/><text class="f4" x="1011" y="1541" font-size="46" textLength="316" lengthAdjust="spacingAndGlyphs">mobile health</text></g>
<g id="node-trust"><circle class="blu" cx="918" cy="567" r="24"/><text x="918" y="559" font-size="44" textLength="107" lengthAdjust="spacingAndGlyphs">trust</text></g>
<g id="node-empowerment"><circle class="red" cx="1265" cy="1216" r="22"/><text x="1269" y="1216" font-size="46" textLength="337" lengthAdjust="spacingAndGlyphs">empowerment</text></g>
<g id="node-heart-failure"><circle class="grn" cx="1984" cy="1697" r="22"/><text x="1986" y="1695" font-size="46" textLength="283" lengthAdjust="spacingAndGlyphs">heart failure</text></g>
<g id="node-patient-feedback"><circle class="blu" cx="947" cy="45" r="21"/><text x="946" y="43" font-size="46" textLength="380" lengthAdjust="spacingAndGlyphs">patient feedback</text></g>
<g id="node-parents"><circle class="blu" cx="1245" cy="877" r="20"/><text x="1245" y="871" font-size="44" textLength="177" lengthAdjust="spacingAndGlyphs">parents</text></g>
<g id="node-health-information-technology"><circle class="red" cx="388" cy="781" r="20"/><text class="f1" x="379" y="783" font-size="44" textLength="631" lengthAdjust="spacingAndGlyphs">health information technology</text></g>
<g id="node-spirituality"><circle class="grn" cx="2765" cy="678" r="20"/><text x="2764" y="678" font-size="44" textLength="228" lengthAdjust="spacingAndGlyphs">spirituality</text></g>
<g id="node-patient-expectations"><circle class="blu" cx="838" cy="123" r="19"/><text x="838" y="123" font-size="46" textLength="464" lengthAdjust="spacingAndGlyphs">patient expectations</text></g>
<g id="node-chronic-kidney-disease"><circle class="red" cx="1713" cy="1627" r="18"/><text class="f1" x="1718" y="1627" font-size="42" textLength="479" lengthAdjust="spacingAndGlyphs">chronic kidney disease</text></g>
<g id="node-hiv"><circle class="red" cx="1161" cy="1691" r="18"/><text x="1162" y="1691" font-size="40" textLength="68" lengthAdjust="spacingAndGlyphs">hiv</text></g>
<g id="node-e-health"><circle class="yel" cx="976" cy="1871" r="18"/><text x="977" y="1869" font-size="40" textLength="175" lengthAdjust="spacingAndGlyphs">e-health</text></g>
<g id="node-colorectal-cancer-h"><circle class="grn" cx="2104" cy="672" r="18"/><text x="2103" y="674" font-size="44" textLength="357" lengthAdjust="spacingAndGlyphs">colorectal-cancer</text></g>
<g id="node-dementia"><circle class="blu" cx="590" cy="388" r="16"/><text x="587" y="386" font-size="42" textLength="201" lengthAdjust="spacingAndGlyphs">dementia</text></g>
<g id="node-pediatrics"><circle class="blu" cx="1048" cy="752" r="16"/><text class="f2" x="1040" y="757" font-size="40" textLength="176" lengthAdjust="spacingAndGlyphs">pediatrics</text></g>
<g id="node-patient-centered-medical-home"><circle class="pur" cx="1251" cy="596" r="16"/><text class="f3" x="1251" y="590" font-size="42" textLength="666" lengthAdjust="spacingAndGlyphs">patient-centered medical home</text></g>
<g id="node-head-and-neck-cancer"><circle class="cyn" cx="2356" cy="485" r="16"/><text x="2360" y="485" font-size="44" textLength="460" lengthAdjust="spacingAndGlyphs">head and neck cancer</text></g>
<g id="node-personal-h"><circle class="red" cx="281" cy="1117" r="16"/><text class="f5" x="171" y="1120" font-size="44" textLength="273" lengthAdjust="spacingAndGlyphs">personal h</text></g>
<g id="node-copd"><circle class="grn" cx="2151" cy="1604" r="16"/><text x="2152" y="1604" font-size="46" textLength="655" lengthAdjust="spacingAndGlyphs">chronic obstructive pulmonary</text></g>
<g id="node-dyspnea"><circle class="grn" cx="2502" cy="1633" r="16"/><text class="f2" x="2484" y="1633" font-size="44" textLength="150" lengthAdjust="spacingAndGlyphs">dyspnea</text></g>
<g id="node-machine-learning"><circle class="blu" cx="555" cy="518" r="14"/><text class="f4" x="555" y="518" font-size="44" textLength="366" lengthAdjust="spacingAndGlyphs">machine learning</text></g>
<g id="node-suicide"><circle class="cyn" cx="1717" cy="413" r="14"/><text x="1716" y="411" font-size="40" textLength="146" lengthAdjust="spacingAndGlyphs">suicide</text></g>
<g id="node-qualitative-interviews"><circle class="cyn" cx="1861" cy="559" r="14"/><text x="1867" y="559" font-size="44" textLength="456" lengthAdjust="spacingAndGlyphs">qualitative interviews</text></g>
<g id="node-patient-empowerment"><circle class="red" cx="1043" cy="1261" r="14"/><text class="f2" x="903" y="1278" font-size="42" textLength="479" lengthAdjust="spacingAndGlyphs">patient empowerment</text></g>
<g id="node-type-2-diabetes"><circle class="red" cx="1286" cy="2017" r="14"/><text x="1287" y="2013" font-size="40" textLength="323" lengthAdjust="spacingAndGlyphs">type 2 diabetes</text></g>
<g id="node-prostate-cancer"><circle class="grn" cx="2389" cy="1083" r="14"/><text x="2389" y="1080" font-size="44" textLength="329" lengthAdjust="spacingAndGlyphs">prostate-cancer</text></g>
<g id="node-colorectal-cancer"><circle class="grn" cx="2182" cy="1309" r="14"/><text x="2188" y="1306" font-size="42" textLength="349" lengthAdjust="spacingAndGlyphs">colorectal cancer</text></g>
<g id="node-distress"><circle class="grn" cx="2603" cy="1339" r="14"/><text x="2605" y="1341" font-size="40" textLength="160" lengthAdjust="spacingAndGlyphs">distress</text></g>
<g id="node-depressive-symptoms"><circle class="grn" cx="2151" cy="1417" r="14"/><text x="2154" y="1419" font-size="42" textLength="458" lengthAdjust="spacingAndGlyphs">depressive symptoms</text></g>
<g id="node-heart-failure-h"><circle class="grn" cx="1888" cy="1495" r="14"/><text x="1891" y="1493" font-size="40" textLength="257" lengthAdjust="spacingAndGlyphs">heart-failure</text></g>
<g id="node-breathlessness"><circle class="grn" cx="2477" cy="1732" r="14"/><text x="2479" y="1732" font-size="40" textLength="312" lengthAdjust="spacingAndGlyphs">breathlessness</text></g>
<g id="node-trauma"><circle class="pur" cx="1586" cy="216" r="12"/><text x="1587" y="216" font-size="40" textLength="150" lengthAdjust="spacingAndGlyphs">trauma</text></g>
<g id="node-virtual-reality"><circle class="blu" cx="744" cy="666" r="12"/><text x="742" y="661" font-size="44" textLength="283" lengthAdjust="spacingAndGlyphs">virtual reality</text></g>
<g id="node-internet"><circle class="red" cx="742" cy="1070" r="12"/><text class="f1" x="737" y="1068" font-size="40" textLength="160" lengthAdjust="spacingAndGlyphs">internet</text></g>
<g id="node-cancer-pain"><circle class="grn" cx="2894" cy="844" r="12"/><text x="2893" y="842" font-size="40" textLength="240" lengthAdjust="spacingAndGlyphs">cancer pain</text></g>
<g id="node-terminally-ill"><circle class="grn" cx="2738" cy="931" r="12"/><text class="f3" x="2741" y="926" font-size="40" textLength="269" lengthAdjust="spacingAndGlyphs">terminally-ill</text></g>
<g id="node-behaviors"><circle class="red" cx="1432" cy="1576" r="12"/><text x="1433" y="1571" font-size="40" textLength="207" lengthAdjust="spacingAndGlyphs">behaviors</text></g>
<g id="node-virtual-care"><circle class="yel" cx="425" cy="1619" r="12"/><text x="392" y="1621" font-size="40" textLength="234" lengthAdjust="spacingAndGlyphs">virtual care</text></g>
<g id="node-chronic-kidney-disease-h"><circle class="red" cx="1974" cy="1824" r="12"/><text x="1979" y="1824" font-size="36" textLength="446" lengthAdjust="spacingAndGlyphs">chronic kidney-disease</text></g>
<g id="node-psychiatry"><circle class="red" cx="415" cy="1268" r="8"/><text x="415" y="1267" font-size="38" textLength="201" lengthAdjust="spacingAndGlyphs">psychiatry</text></g>
<g id="node-web"><circle class="red" cx="618" cy="844" r="1"/><text x="497" y="894" font-size="38" textLength="82" lengthAdjust="spacingAndGlyphs">web</text></g>
<g id="node-coronavirus"><circle class="yel" cx="144" cy="1424" r="10"/><text x="142" y="1424" font-size="40" textLength="251" lengthAdjust="spacingAndGlyphs">coronavirus</text></g>
<g id="node-telemonitoring"><circle class="red" cx="1181" cy="2110" r="10"/><text x="1180" y="2108" font-size="36" textLength="294" lengthAdjust="spacingAndGlyphs">telemonitoring</text></g>
<g id="node-lung"><circle class="grn" cx="2716" cy="1111" r="10"/><text x="2714" y="1111" font-size="36" textLength="82" lengthAdjust="spacingAndGlyphs">lung</text></g>
<g id="node-schizophrenia"><circle class="grn" cx="1853" cy="1325" r="10"/><text x="1854" y="1323" font-size="36" textLength="269" lengthAdjust="spacingAndGlyphs">schizophrenia</text></g>
<g id="node-chronic-heart-failure"><circle class="grn" cx="2255" cy="1516" r="10"/><text x="2253" y="1512" font-size="36" textLength="399" lengthAdjust="spacingAndGlyphs">chronic heart-failure</text></g>
<g id="node-advanced-cancer-patients"><circle class="grn" cx="2929" cy="1039" r="10"/><text x="2931" y="1039" font-size="36" textLength="509" lengthAdjust="spacingAndGlyphs">advanced cancer-patients</text></g>
<g id="node-fibromyalgia"><circle class="pur" cx="1785" cy="251" r="10"/><text x="1785" y="249" font-size="38" textLength="242" lengthAdjust="spacingAndGlyphs">fibromyalgia</text></g>
<g id="node-posttraumatic-stress-disorder"><circle class="pur" cx="1537" cy="144" r="10"/><text x="1539" y="146" font-size="36" textLength="587" lengthAdjust="spacingAndGlyphs">posttraumatic-stress-disorder</text></g>
<g id="node-cardiovascular-disease"><circle class="red" cx="1353" cy="1866" r="8"/><text x="1353" y="1866" font-size="36" textLength="452" lengthAdjust="spacingAndGlyphs">cardiovascular-disease</text></g>
<g id="node-well-being"><circle class="yel" cx="1522" cy="1259" r="8"/><text class="f2" x="1507" y="1259" font-size="38" textLength="203" lengthAdjust="spacingAndGlyphs">well-being</text></g>
<g id="node-ovarian-cancer"><circle class="grn" cx="3059" cy="1265" r="8"/><text x="3058" y="1265" font-size="36" textLength="290" lengthAdjust="spacingAndGlyphs">ovarian cancer</text></g>
<g id="node-cancer-survivors"><circle class="grn" cx="2203" cy="1171" r="8"/><text x="2208" y="1171" font-size="38" textLength="316" lengthAdjust="spacingAndGlyphs" fill="#4a4a4a">cancer survivors</text></g>
<g id="node-telerehabilitation"><circle class="yel" cx="698" cy="2009" r="8"/><text x="698" y="2009" font-size="38" textLength="349" lengthAdjust="spacingAndGlyphs">telerehabilitation</text></g>
</g>
</svg>
